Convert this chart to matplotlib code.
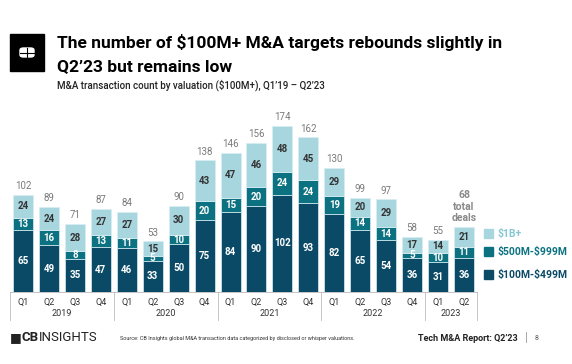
import matplotlib
matplotlib.use("Agg")
import matplotlib.pyplot as plt
from matplotlib.patches import Rectangle, FancyBboxPatch
import numpy as np

plt.rcParams['font.family'] = ['Roboto', 'DejaVu Sans']
plt.rcParams['text.parse_math'] = False

# data
quarters = ['Q1', 'Q2', 'Q3', 'Q4'] * 4 + ['Q1', 'Q2']
years = ['2019', '2020', '2021', '2022', '2023']
small = [65, 49, 35, 47, 46, 33, 50, 75, 84, 90, 102, 93, 82, 65, 54, 36, 31, 36]
mid = [13, 16, 8, 13, 11, 5, 10, 20, 15, 20, 24, 24, 19, 14, 14, 5, 10, 11]
large = [24, 24, 28, 27, 27, 15, 30, 43, 47, 46, 48, 45, 29, 20, 29, 17, 14, 21]
series_names = ['$1B+', '$500M-$999M', '$100M-$499M']

c_dark = '#0b4a66'
c_mid = '#0c7282'
c_light = '#a8d6df'

W, H = 572, 364
fig = plt.figure(figsize=(W / 100, H / 100), dpi=100)

def px(x, y):
    return x / W, 1 - y / H

# axes: x from 10 to 477 px, baseline at y=292, 0.954 px per unit
top_val = 200
scale = 0.954
ax = fig.add_axes([10 / W, (H - 292) / H, 467 / W, top_val * scale / H])
ax.set_xlim(-0.5, 17.5)
ax.set_ylim(0, top_val)
ax.axis('off')

x = np.arange(len(small))
small = np.array(small); mid = np.array(mid); large = np.array(large)
totals = small + mid + large
bw = 0.77
ax.bar(x, small, bw, color=c_dark, edgecolor='#d9eef2', linewidth=0.5)
ax.bar(x, mid, bw, bottom=small, color=c_mid, edgecolor='#d9eef2', linewidth=0.5)
ax.bar(x, large, bw, bottom=small + mid, color=c_light, edgecolor='#d9eef2', linewidth=0.5)

lab = dict(ha='center', va='center', fontsize=7, fontweight='bold')
for i in x:
    ax.text(i, small[i] / 2, str(small[i]), color='white', **lab)
    ax.text(i, small[i] + mid[i] / 2, str(mid[i]), color='white', **lab)
    ax.text(i, small[i] + mid[i] + large[i] / 2, str(large[i]), color='#333333', **lab)
    if i < len(x) - 1:
        ax.text(i, totals[i] + 4, str(totals[i]), ha='center', va='bottom', fontsize=7,
                color='#7a7a7a')
    else:
        ax.text(i, totals[i] + 4, f'{totals[i]}\ntotal\ndeals', ha='center', va='bottom',
                fontsize=7.5, fontweight='bold', color='#8a8a8a', linespacing=1.2)

# axis: baseline, quarter labels, year groups
tr = ax.get_xaxis_transform()
ax.plot([-0.5, 17.5], [0, 0], color='#bbbbbb', lw=0.6, clip_on=False)
below_q = -10 / (top_val * scale)
below_y = -22 / (top_val * scale)
below_end = -28 / (top_val * scale)
for i, q in enumerate(quarters):
    ax.text(i, below_q, q, transform=tr, ha='center', va='center',
            fontsize=6.5, color='#333333')
bounds = [-0.5, 3.5, 7.5, 11.5, 15.5, 17.5]
for b in bounds:
    ax.plot([b, b], [0, below_end], transform=tr, color='#bbbbbb', lw=0.6, clip_on=False)
for k, yr in enumerate(years):
    ax.text((bounds[k] + bounds[k + 1]) / 2, below_y, yr, transform=tr,
            ha='center', va='center', fontsize=6.5, color='#333333')

# legend
leg_cols = [c_light, c_mid, c_dark]
leg_text_cols = ['#86c7d3', c_mid, c_dark]
leg_y = [234, 252, 275]
for name, c, tc, yy in zip(series_names, leg_cols, leg_text_cols, leg_y):
    fig.patches.append(Rectangle(px(484, yy + 4), 9 / W, 9 / H, transform=fig.transFigure,
                                 color=c))
    fig.text(*px(497, yy), name, color=tc, fontsize=7.5, fontweight='bold', va='center')

# title block
fig.patches.append(Rectangle(px(10, 71), 34 / W, 37 / H, transform=fig.transFigure,
                             color='black'))
fig.patches.append(FancyBboxPatch(px(20, 57), 14 / W, 9 / H, transform=fig.transFigure,
                                  boxstyle='round,pad=0,rounding_size=0.006',
                                  color='white'))
fig.add_artist(plt.Line2D([27 / W, 27 / W], [1 - 57 / H, 1 - 48 / H], color='black', lw=0.8))
fig.add_artist(plt.Line2D([20 / W, 34 / W], [1 - 52.5 / H, 1 - 52.5 / H], color='black', lw=0.8))
fig.text(*px(57, 48), 'The number of $100M+ M&A targets rebounds slightly in',
         fontsize=12.5, fontweight='bold', va='baseline')
fig.text(*px(57, 71), 'Q2\u201923 but remains low', fontsize=12.5, fontweight='bold',
         va='baseline')
fig.text(*px(57, 88), 'M&A transaction count by valuation ($100M+), Q1\u201919 \u2013 Q2\u201923',
         fontsize=7, fontweight='medium', va='baseline', color='#222222')

# footer
fig.text(*px(10, 341), '\u25A0', fontsize=9, va='baseline', color='#222222')
fig.text(*px(22, 341), 'CB', fontsize=9.5, fontweight='bold', va='baseline', color='#222222')
fig.text(*px(39, 341), 'INSIGHTS', fontsize=9.5, va='baseline', color='#222222')
fig.text(*px(120, 340), 'Source: CB Insights global M&A transaction data categorized by '
         'disclosed or whisper valuations.', fontsize=4, va='baseline', color='#333333')
fig.text(*px(518, 341), 'Tech M&A Report: Q2\u201923', fontsize=6.5, fontweight='bold',
         ha='right', va='baseline', color='#222222')
fig.add_artist(plt.Line2D([526 / W, 526 / W], [1 - 342 / H, 1 - 332 / H], color='#999999', lw=0.6))
fig.text(*px(535, 340.5), '8', fontsize=5, va='baseline', color='#555555')

fig.savefig('out.png', dpi=100)
